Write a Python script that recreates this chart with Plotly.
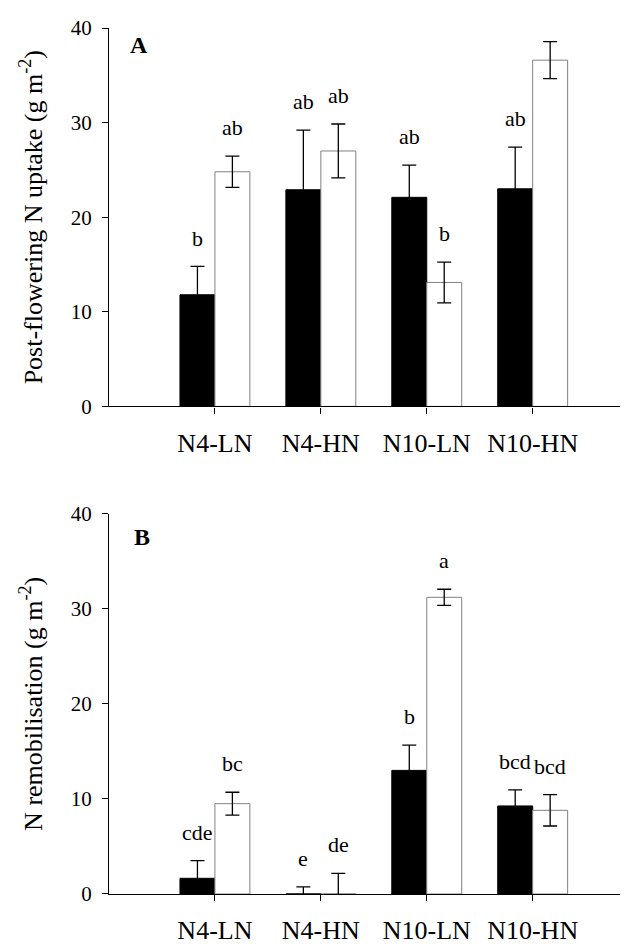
import plotly.graph_objects as go

categories = ["N4-LN", "N4-HN", "N10-LN", "N10-HN"]
cat_pos = [1, 2, 3, 4]

# Panel A: post-flowering N uptake (g m-2)
a_black = [11.8, 22.9, 22.1, 23.0]
a_black_err = [3.0, 6.3, 3.4, 4.4]
a_white = [24.8, 27.0, 13.1, 36.6]
a_white_err = [1.65, 2.85, 2.15, 1.95]
a_black_letters = ["b", "ab", "ab", "ab"]
a_white_letters = ["ab", "ab", "b", "a"]

# Panel B: N remobilisation (g m-2)
b_black = [1.65, 0.0, 13.0, 9.26]
b_black_err = [1.85, 0.74, 2.65, 1.7]
b_white = [9.5, 0.0, 31.2, 8.8]
b_white_err = [1.2, 2.17, 0.85, 1.65]
b_black_letters = ["cde", "e", "b", "bcd"]
b_white_letters = ["bc", "de", "a", "bcd"]

y_ticks = [0, 10, 20, 30, 40]

FONT = "Liberation Serif, Times New Roman, serif"
BW = 0.33
LETTER_OFFSET = 3.0

fig = go.Figure()

def add_panel(black, black_err, white, white_err, xa, ya):
    fig.add_trace(go.Bar(
        x=cat_pos, y=black, width=BW, offset=-BW,
        marker=dict(color="black", line=dict(color="black", width=1)),
        error_y=dict(type="data", array=black_err, visible=True,
                     color="black", thickness=1.3, width=7),
        xaxis=xa, yaxis=ya, showlegend=False, hoverinfo="skip"))
    fig.add_trace(go.Bar(
        x=cat_pos, y=white, width=BW, offset=0,
        marker=dict(color="white", line=dict(color="#808080", width=1)),
        error_y=dict(type="data", array=white_err, visible=True,
                     color="black", thickness=1.3, width=7),
        xaxis=xa, yaxis=ya, showlegend=False, hoverinfo="skip"))

add_panel(a_black, a_black_err, a_white, a_white_err, "x", "y")
add_panel(b_black, b_black_err, b_white, b_white_err, "x2", "y2")

def add_letters(vals, errs, letters, shift, xref, yref):
    for p, v, e, t in zip(cat_pos, vals, errs, letters):
        fig.add_annotation(x=p + shift, y=v + e + LETTER_OFFSET, text=t,
                           xref=xref, yref=yref, showarrow=False,
                           xanchor="center", yanchor="middle",
                           font=dict(family=FONT, size=22, color="black"))

add_letters(a_black, a_black_err, a_black_letters, -BW / 2, "x", "y")
add_letters(a_white, a_white_err, a_white_letters, BW / 2, "x", "y")
add_letters(b_black, b_black_err, b_black_letters, -BW / 2, "x2", "y2")
add_letters(b_white, b_white_err, b_white_letters, BW / 2, "x2", "y2")

fig.add_annotation(x=0.18, y=38.2, xref="x", yref="y", text="<b>A</b>",
                   showarrow=False, xanchor="left", yanchor="middle",
                   font=dict(family=FONT, size=24, color="black"))
fig.add_annotation(x=0.22, y=37.5, xref="x2", yref="y2", text="<b>B</b>",
                   showarrow=False, xanchor="left", yanchor="middle",
                   font=dict(family=FONT, size=24, color="black"))

xaxis_common = dict(
    range=[0, 4.9], tickmode="array", tickvals=cat_pos, ticktext=categories,
    showline=True, linecolor="black", linewidth=1.3, ticks="outside",
    ticklen=6, tickcolor="black", tickwidth=1.3, showgrid=False, zeroline=False,
    tickfont=dict(family=FONT, size=26, color="black"), ticklabelstandoff=7,
    fixedrange=True)
yaxis_common = dict(
    range=[0, 40], tickmode="array", tickvals=y_ticks,
    showline=True, linecolor="black", linewidth=1.3, ticks="outside",
    ticklen=6, tickcolor="black", tickwidth=1.3, showgrid=False, zeroline=False,
    tickfont=dict(family=FONT, size=21, color="black"), ticklabelstandoff=6)

# page body has an 8px default margin; margins compensate for it
H = 872.0
fig.update_layout(
    width=628, height=945,
    margin=dict(l=101, r=8, t=18, b=55),
    paper_bgcolor="white", plot_bgcolor="white",
    barmode="overlay", showlegend=False,
    font=dict(family=FONT, color="black"),
    xaxis=dict(**xaxis_common, anchor="y"),
    yaxis=dict(**yaxis_common, anchor="x", domain=[(898 - 407) / H, 1.0],
               title=dict(text="Post-flowering N uptake (g m<sup>-2</sup>)",
                          font=dict(family=FONT, size=26, color="black"),
                          standoff=20)),
    xaxis2=dict(**xaxis_common, anchor="y2"),
    yaxis2=dict(**yaxis_common, anchor="x2", domain=[0.0, (898 - 515) / H],
                title=dict(text="N remobilisation (g m<sup>-2</sup>)",
                           font=dict(family=FONT, size=26, color="black"),
                           standoff=20)),
)

fig.write_html("out.html")
